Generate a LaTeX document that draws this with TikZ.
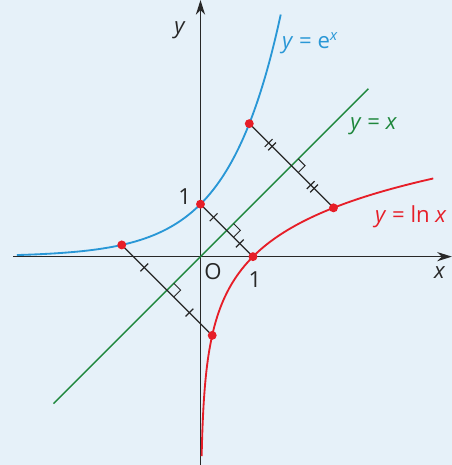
\documentclass[tikz,border=0pt]{standalone}
\usepackage{fontspec}
\setmainfont{Open Sans}
\usetikzlibrary{arrows.meta, calc, decorations.markings}
\definecolor{bgblue}{RGB}{230,241,249}
\definecolor{expblue}{RGB}{41,151,214}
\definecolor{idgreen}{RGB}{30,135,60}
\definecolor{lnred}{RGB}{230,30,40}
\definecolor{axisgray}{RGB}{40,40,40}
\tikzset{
    axisline/.style={-{Stealth[length=8pt, width=5pt]}, line width=0.85pt, color=axisgray},
    expcurve/.style={line width=1pt, color=expblue},
    lncurve/.style={line width=1pt, color=lnred},
    idline/.style={line width=0.75pt, color=idgreen},
    seg/.style={line width=0.65pt, color=black!85},
    onetick/.style={seg, postaction={decorate}, decoration={markings,
        mark=at position 0.25 with {\draw[seg] (0,-3pt) -- (0,3pt);},
        mark=at position 0.75 with {\draw[seg] (0,-3pt) -- (0,3pt);}}},
    twotick/.style={seg, postaction={decorate}, decoration={markings,
        mark=at position 0.25 with {\draw[seg] (-1.3pt,-3pt) -- (-1.3pt,3pt) (1.3pt,-3pt) -- (1.3pt,3pt);},
        mark=at position 0.75 with {\draw[seg] (-1.3pt,-3pt) -- (-1.3pt,3pt) (1.3pt,-3pt) -- (1.3pt,3pt);}}},
    rangle/.style={line width=0.55pt, color=black!85},
    ptdot/.style={circle, fill=lnred, inner sep=0pt, minimum size=0.17cm},
    curvelbl/.style={font=\fontsize{12}{14}\selectfont, anchor=west, inner sep=0pt},
    axislbl/.style={font=\fontsize{12}{14}\selectfont, text=axisgray}
}

\begin{document}
\begin{tikzpicture}
    \fill[bgblue] (-3.82,-3.97) rectangle (4.79,4.89);
    \useasboundingbox (-3.82,-3.97) rectangle (4.79,4.89);
    % axes
    \coordinate (xstart) at (-3.57,0);
    \coordinate (xend) at (4.79,0);
    \coordinate (ystart) at (0,-3.97);
    \coordinate (yend) at (0,4.89);
    \draw[axisline] (xstart) -- (xend);
    \draw[axisline] (ystart) -- (yend);
    \node[axislbl] (xlbl) at (4.56,-0.31) {\textit{x}};
    \node[axislbl] (ylbl) at (-0.39,4.32) {\textit{y}};
    \node[axislbl] (olbl) at (0.24,-0.29) {O};
    \node[axislbl] (onex) at (1.04,-0.44) {1};
    \node[axislbl] (oney) at (-0.30,1.14) {1};
    % y = x and the two curves
    \coordinate (idlow) at (-2.8,-2.8);
    \coordinate (idhigh) at (3.2,3.2);
    \draw[idline] (idlow) -- (idhigh);
    \draw[expcurve] plot[domain=-3.5:1.53, samples=90, smooth] (\x,{exp(\x)});
    \draw[lncurve] plot[domain=-3.8:1.49, samples=90, smooth] ({exp(\x)},\x);
    \node[curvelbl, text=expblue] (explbl) at (1.55,4.06) {\textit{y} = e\textsuperscript{\textit{x}}};
    \node[curvelbl, text=idgreen] (idlbl) at (2.85,2.48) {\textit{y} = \textit{x}};
    \node[curvelbl, text=lnred] (lnlbl) at (3.32,0.76) {\textit{y} = ln \textit{x}};
    % symmetric points
    \coordinate (ea) at (-1.5,{exp(-1.5)});
    \coordinate (la) at ({exp(-1.5)},-1.5);
    \coordinate (eb) at (0,1);
    \coordinate (lb) at (1,0);
    \coordinate (ec) at (0.93,{exp(0.93)});
    \coordinate (lc) at ({exp(0.93)},0.93);
    \draw[onetick] (ea) -- (la);
    \draw[onetick] (eb) -- (lb);
    \draw[twotick] (ec) -- (lc);
    \foreach \p in {a,b,c} {
        \coordinate (m\p) at ($(e\p)!0.5!(l\p)$);
        \draw[rangle] ($(m\p)+(0.13,-0.13)$) -- ++(0.13,0.13) -- ++(-0.13,0.13);
    }
    \foreach \p in {a,b,c} {
        \node[ptdot] (de\p) at (e\p) {};
        \node[ptdot] (dl\p) at (l\p) {};
    }
\end{tikzpicture}
\end{document}
